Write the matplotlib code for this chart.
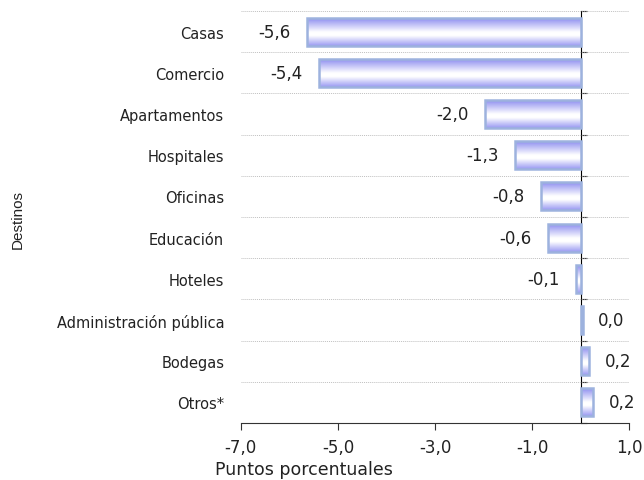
import matplotlib
matplotlib.use("Agg")
import matplotlib.pyplot as plt
import numpy as np
from matplotlib.colors import LinearSegmentedColormap

categories = ["Casas", "Comercio", "Apartamentos", "Hospitales", "Oficinas",
              "Educación", "Hoteles", "Administración pública", "Bodegas", "Otros*"]
values = [-5.64, -5.39, -1.97, -1.35, -0.81, -0.67, -0.09, 0.04, 0.18, 0.26]
value_labels = ["-5,6", "-5,4", "-2,0", "-1,3", "-0,8", "-0,6", "-0,1", "0,0", "0,2", "0,2"]
xticks = [-7, -5, -3, -1, 1]
xtick_labels = ["-7,0", "-5,0", "-3,0", "-1,0", "1,0"]

plt.rcParams['font.family'] = ['DejaVu Sans']

fig = plt.figure(figsize=(6.44, 4.81), dpi=100)
ax = fig.add_axes([0.374, 0.1185, 0.603, 0.8565])

n = len(categories)
ypos = np.arange(n)
bars = ax.barh(ypos, values, height=0.68, color='none',
               edgecolor='#9db2de', linewidth=1.8, zorder=3)

cmap = LinearSegmentedColormap.from_list(
    "grad", [(0.0, '#8585ef'), (0.52, '#ffffff'), (0.64, '#ffffff'), (1.0, '#9898f2')])
grad = np.linspace(0, 1, 256).reshape(-1, 1)
for b in bars:
    x0, y0, w, h = b.get_x(), b.get_y(), b.get_width(), b.get_height()
    xa, xb = min(x0, x0 + w), max(x0, x0 + w)
    im = ax.imshow(grad, cmap=cmap, aspect='auto', extent=[xa, xb, y0 + h, y0],
                   zorder=2, interpolation='bilinear')
    im.set_clip_path(b)

ax.set_xlim(-7, 1)
ax.set_ylim(n - 0.5, -0.5)

# value labels
for i, (v, lab) in enumerate(zip(values, value_labels)):
    if v < 0:
        ax.annotate(lab, (v, i), xytext=(-12, 0), textcoords='offset points',
                    ha='right', va='center', fontsize=12, color='#222222')
    else:
        ax.annotate(lab, (v, i), xytext=(11, 0), textcoords='offset points',
                    ha='left', va='center', fontsize=12, color='#222222')

# gridlines between categories
for yb in np.arange(-0.5, n - 0.5, 1.0):
    ax.axhline(yb, color='#c0c0c0', linestyle=(0, (1, 1)), linewidth=0.7, zorder=1)

ax.set_yticks(ypos)
ax.set_yticklabels(categories, fontsize=10.5, color='#222222')
ax.tick_params(axis='y', length=0, pad=12)

ax.set_xticks(xticks)
ax.set_xticklabels(xtick_labels, fontsize=12, color='#222222')
ax.tick_params(axis='x', direction='out', length=5, color='#333333', pad=6)

for s in ['top', 'right', 'left']:
    ax.spines[s].set_visible(False)
ax.spines['bottom'].set_color('#333333')

# zero axis line with ticks at category boundaries
sec = ax.secondary_yaxis((0 - (-7)) / 8)
sec.set_yticks(np.arange(-0.5, n, 1.0))
sec.set_yticklabels([])
sec.tick_params(axis='y', direction='out', length=4, color='#111111')
sec.spines['left'].set_color('#111111')
sec.spines['left'].set_linewidth(1.2)

fig.text(0.027, 0.543, "Destinos", rotation=90, ha='center', va='center',
         fontsize=11, family=['Liberation Sans Narrow', 'Liberation Sans'], color='#222222')
fig.text(0.334, 0.022, "Puntos porcentuales", ha='left', va='center',
         fontsize=12.5, color='#222222')

fig.savefig("out.png", dpi=100)
